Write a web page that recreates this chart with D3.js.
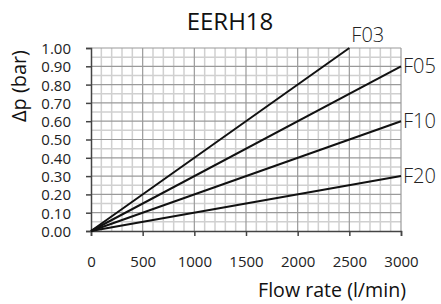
<!DOCTYPE html>
<html><head><meta charset="utf-8">
<script src="https://cdn.jsdelivr.net/npm/d3@7"></script>
<style>body{margin:0;background:#fff}svg{display:block}</style>
</head><body>
<script>
const seriesNames = ["F03","F05","F10","F20"];
const seriesEndFlow = [2500, 3000, 3000, 3000];
const seriesEndDp = [1.00, 0.90, 0.60, 0.30];
const xTicks = [0,500,1000,1500,2000,2500,3000];
const yTicks = [0,0.1,0.2,0.3,0.4,0.5,0.6,0.7,0.8,0.9,1.0];

const W=441,H=304;
const svg=d3.select("body").append("svg").attr("width",W).attr("height",H);
const x=d3.scaleLinear().domain([0,3000]).range([91,401]);
const y=d3.scaleLinear().domain([0,1]).range([231,48]);
const font="'Open Sans', sans-serif";

function fit(sel, target){
  const fs=+sel.attr("font-size");
  const len=sel.node().getComputedTextLength();
  if(len>0) sel.attr("font-size", fs*target/len);
}

// minor grid
const g=svg.append("g");
g.selectAll(".vx").data(d3.range(0,3001,100).filter(v=>v%500!==0)).enter().append("line")
 .attr("x1",d=>x(d)).attr("x2",d=>x(d)).attr("y1",y(0)).attr("y2",y(1))
 .attr("stroke","#d0d0d0").attr("stroke-width",1.5);
g.selectAll(".hy").data(d3.range(0.05,1,0.1)).enter().append("line")
 .attr("y1",d=>y(d)).attr("y2",d=>y(d)).attr("x1",x(0)).attr("x2",x(3000))
 .attr("stroke","#d0d0d0").attr("stroke-width",1.5);
// major grid
g.selectAll(".vX").data(xTicks.slice(1)).enter().append("line")
 .attr("x1",d=>x(d)).attr("x2",d=>x(d)).attr("y1",y(0)).attr("y2",y(1))
 .attr("stroke","#9a9a9a").attr("stroke-width",1.2);
g.selectAll(".hY").data(yTicks.slice(1)).enter().append("line")
 .attr("y1",d=>y(d)).attr("y2",d=>y(d)).attr("x1",x(0)).attr("x2",x(3000))
 .attr("stroke","#9a9a9a").attr("stroke-width",1.2);

// axes
const ya=svg.append("g").attr("transform",`translate(${x(0)},0)`)
 .call(d3.axisLeft(y).tickValues(yTicks).tickFormat(d3.format(".2f")).tickSize(5).tickPadding(3));
const xa=svg.append("g").attr("transform",`translate(0,${y(0)})`)
 .call(d3.axisBottom(x).tickValues(xTicks).tickFormat(d3.format("d")).tickSize(5).tickPadding(20));
[ya,xa].forEach(a=>{
 a.select(".domain").attr("stroke","#444").attr("stroke-width",1.5);
 a.selectAll(".tick line").attr("stroke","#444").attr("stroke-width",1.5);
 a.selectAll("text").attr("font-family",font).attr("font-size",15).attr("fill","#222");
});
ya.selectAll("text").attr("x",-20).attr("dy","0.36em");

// series lines
const line=d3.line().x(d=>x(d[0])).y(d=>y(d[1]));
seriesNames.forEach((n,i)=>{
 svg.append("path").attr("d",line([[0,0],[seriesEndFlow[i],seriesEndDp[i]]]))
  .attr("stroke","#111").attr("stroke-width",2).attr("fill","none");
 const isTop = seriesEndDp[i]>=1;
 svg.append("text").text(n)
  .attr("x", isTop? x(seriesEndFlow[i])+2 : x(seriesEndFlow[i])+2)
  .attr("y", isTop? y(seriesEndDp[i])-6 : y(seriesEndDp[i])+7)
  .attr("text-anchor","start")
  .attr("font-family",font).attr("font-weight",300).attr("font-size",20).attr("fill","#222");
});

svg.append("text").text("EERH18").attr("x",230).attr("y",30).attr("text-anchor","middle")
 .attr("font-family",font).attr("font-size",24).attr("fill","#111");
const xt=svg.append("text").text("Flow rate (l/min)").attr("x",332).attr("y",297).attr("text-anchor","middle")
 .attr("font-family",font).attr("font-size",19).attr("fill","#111");
fit(xt,148);
const yt=svg.append("text").text("Δp (bar)").attr("transform","translate(26,86) rotate(-90)").attr("text-anchor","middle")
 .attr("font-family",font).attr("font-size",18).attr("fill","#111");
fit(yt,72);
</script>
</body></html>
